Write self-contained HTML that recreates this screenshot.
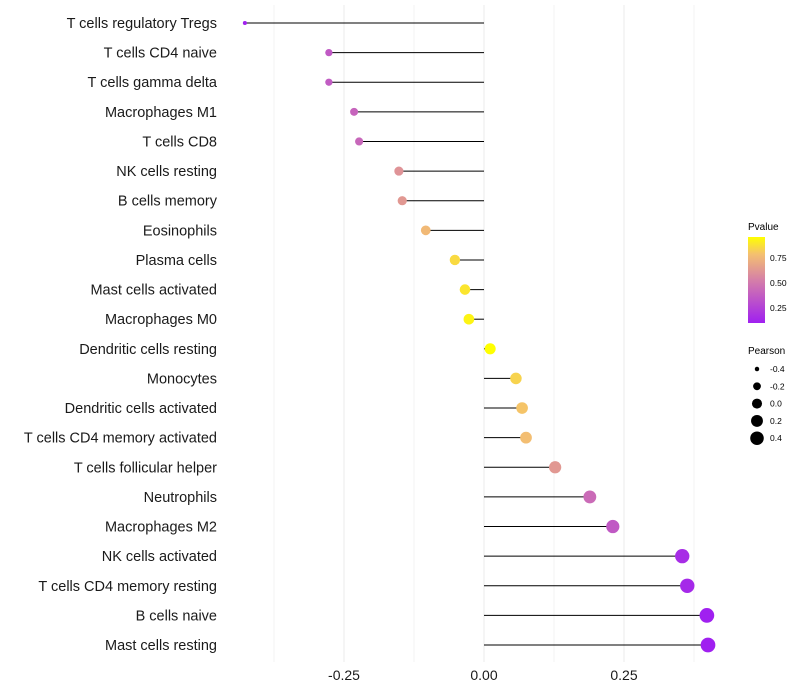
<!DOCTYPE html>
<html><head><meta charset="utf-8"><style>
body{margin:0;background:#fff;font-family:"Liberation Sans",sans-serif}
svg{display:block}
</style></head><body>
<svg id="chart" width="800" height="700">
<defs><linearGradient id="pg" x1="0" y1="1" x2="0" y2="0">
<stop offset="0" stop-color="#a020f0"/><stop offset="0.5" stop-color="#d57fa8"/><stop offset="0.8" stop-color="#f4c070"/><stop offset="1" stop-color="#ffff00"/></linearGradient></defs>
<g id="grid"></g>
<g id="marks"></g>
<g id="labels"></g>
<g id="xt"></g>
<g>
<text x="748" y="230" font-size="10">Pvalue</text>
<rect x="748" y="237" width="17" height="86" fill="url(#pg)"/>
<text x="770" y="261" font-size="8.5">0.75</text>
<text x="770" y="286" font-size="8.5">0.50</text>
<text x="770" y="311" font-size="8.5">0.25</text>
</g>
<g id="sizeleg">
<text x="748" y="354" font-size="10">Pearson</text>
</g>
</svg>
<script>
const categories=["T cells regulatory  Tregs","T cells CD4 naive","T cells gamma delta","Macrophages M1","T cells CD8","NK cells resting","B cells memory","Eosinophils","Plasma cells","Mast cells activated","Macrophages M0","Dendritic cells resting","Monocytes","Dendritic cells activated","T cells CD4 memory activated","T cells follicular helper","Neutrophils","Macrophages M2","NK cells activated","T cells CD4 memory resting","B cells naive","Mast cells resting"];
const pearson=[-0.427,-0.277,-0.277,-0.232,-0.223,-0.152,-0.146,-0.104,-0.052,-0.034,-0.027,0.011,0.057,0.068,0.075,0.127,0.189,0.230,0.354,0.363,0.398,0.400];
const pvalues=[0.10,0.35,0.36,0.40,0.41,0.60,0.62,0.75,0.85,0.88,0.92,0.95,0.83,0.79,0.77,0.62,0.43,0.35,0.15,0.13,0.08,0.07];
const xTicks=[-0.25,0,0.25];
const xTickLabels=["-0.25","0.00","0.25"];
const sizeLegend=[-0.4,-0.2,0.0,0.2,0.4];
const sizeLegendLabels=["-0.4","-0.2","0.0","0.2","0.4"];
const NS="http://www.w3.org/2000/svg";
const X=v=>484+v*560;
const Y=i=>23+i*(622/21);
const R=v=>Math.sqrt(Math.max(3,4+(v+0.43)/0.83*50));
const pmin=0.09,pmax=0.95;
function lerp(a,b,t){return a.map((x,i)=>Math.round(x+(b[i]-x)*t));}
function col(p){let t=Math.min(1,Math.max(0,(p-pmin)/(pmax-pmin)));
 const s=[[0,[160,32,240]],[0.5,[213,127,168]],[0.8,[244,192,112]],[1,[255,255,0]]];
 for(let k=1;k<s.length;k++){if(t<=s[k][0]){const c=lerp(s[k-1][1],s[k][1],(t-s[k-1][0])/(s[k][0]-s[k-1][0]));return `rgb(${c})`;}}
 return "rgb(255,255,0)";}
function mk(tag,a,parent){const e=document.createElementNS(NS,tag);for(const k in a)e.setAttribute(k,a[k]);parent.appendChild(e);return e;}
const grid=document.getElementById('grid'),marks=document.getElementById('marks'),labels=document.getElementById('labels'),xt=document.getElementById('xt');
[-0.375,-0.25,-0.125,0,0.125,0.25,0.375].forEach(v=>{
 const l=mk('line',{x1:X(v),x2:X(v),y1:5,y2:662,stroke:Math.abs(v*8)%2===1?'#f3f3f3':'#ebebeb','stroke-width':1},grid);
 
 
});
categories.forEach((c,i)=>{
 const y=Y(i);
 const l=mk('line',{x1:X(0),x2:X(pearson[i]),y1:y,y2:y,stroke:'#000','stroke-width':1},marks);
 
 
 const d=mk('circle',{cx:X(pearson[i]),cy:y,r:R(pearson[i]),fill:col(pvalues[i])},marks);
 
 
 const t=mk('text',{x:217,y:y+5,'text-anchor':'end','font-size':14.5,fill:'#1a1a1a'},labels);
 t.textContent=c;
 
 
});
xTicks.forEach((v,i)=>{
 const t=mk('text',{x:X(v),y:680,'text-anchor':'middle','font-size':14,fill:'#1a1a1a'},xt);
 t.textContent=xTickLabels[i];
 
 
});
const sl=document.getElementById('sizeleg');
sizeLegend.forEach((v,i)=>{
 const y=369+i*17.3;
 const c=mk('circle',{cx:757,cy:y,r:R(v)*0.92,fill:'#000'},sl);
 
 
 const t=mk('text',{x:770,y:y+3,'font-size':8.5},sl);
 t.textContent=sizeLegendLabels[i];
 
 
});
</script>
</body></html>
